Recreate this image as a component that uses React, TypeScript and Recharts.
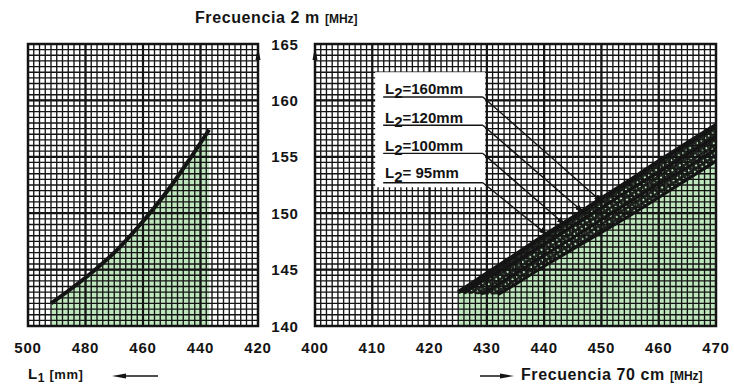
import { ComposedChart, Area, Line, XAxis, YAxis, ReferenceArea, ReferenceLine } from 'recharts'

// left panel: L1 length (mm) vs 2 m frequency
const lengthL1 = [492, 485, 478, 470, 463, 456, 450, 444, 437]
const freq2m = [142.0, 143.3, 144.7, 146.5, 148.4, 150.5, 152.5, 154.7, 157.4]

// right panel: 70 cm frequency vs 2 m frequency for several L2
const freq70 = [425, 426, 429, 432, 435, 440, 445, 450, 455, 460, 465, 470]
const l2_160 = [143.0, 143.3, 144.3, 145.3, 146.3, 148.0, 149.6, 151.3, 152.9, 154.6, 156.2, 157.8]
const l2_120 = [null, 142.9, 143.9, 144.8, 145.7, 147.3, 148.9, 150.5, 152.1, 153.6, 155.2, 156.8]
const l2_100 = [null, null, 142.8, 143.7, 144.7, 146.3, 147.8, 149.4, 151.0, 152.6, 154.1, 155.7]
const l2_95 = [null, null, null, 142.8, 143.7, 145.3, 146.8, 148.3, 149.8, 151.4, 153.0, 154.6]

const yTicks = [140, 145, 150, 155, 160, 165]
const leftTicks = [500, 480, 460, 440, 420]
const rightTicks = [400, 410, 420, 430, 440, 450, 460, 470]
const labels = ['160mm', '120mm', '100mm', ' 95mm']

// leader lines: label underline height, end point on the band
const leaderY = [160.3, 157.8, 155.3, 152.7]
const leaderEnd = [[450.1, 151.0], [446.8, 150.1], [443.6, 149.0], [440.5, 148.1]]

const leftData = lengthL1.map((l, i) => ({ l, f: freq2m[i] }))
const rightData = freq70.map((f, i) => {
  const lows = [l2_95[i], l2_100[i], l2_120[i], l2_160[i]].filter((v) => v != null) as number[]
  return { f, a: l2_160[i], b: l2_120[i], c: l2_100[i], d: l2_95[i], band: [lows[0], l2_160[i]] }
})

const range = (from: number, to: number, step: number) => {
  const out: number[] = []
  for (let v = from; v <= to + 1e-9; v += step) out.push(Math.round(v * 10) / 10)
  return out
}

const FONT = '"Liberation Sans", Arial, sans-serif'
const INK = '#141414'
const GREEN = '#5cc45a'

const tickText = { fontFamily: FONT, fontWeight: 700, fontSize: 15, fill: INK, letterSpacing: 0.8 }

const XTick = ({ x, payload }: any) => (
  <text x={x} y={347} textAnchor="middle" dominantBaseline="central" style={tickText}>
    {payload.value}
  </text>
)

const YTick = ({ y, payload }: any) => (
  <text x={285} y={y} textAnchor="middle" dominantBaseline="central" style={tickText}>
    {payload.value}
  </text>
)

// graph-paper grid: fine lines plus heavier major lines
const gridLines = (fineX: number[], majorX: number[]) => [
  ...fineX.map((x) => <ReferenceLine key={'fx' + x} x={x} stroke={INK} strokeWidth={1.35} />),
  ...range(140, 165, 0.5).map((y) => <ReferenceLine key={'fy' + y} y={y} stroke={INK} strokeWidth={1.35} />),
  ...majorX.map((x) => <ReferenceLine key={'mx' + x} x={x} stroke={INK} strokeWidth={2.2} />),
  ...[145, 150, 155, 160].map((y) => <ReferenceLine key={'my' + y} y={y} stroke={INK} strokeWidth={2.2} />),
]

function LeftPanel() {
  return (
    <ComposedChart width={300} height={387} data={leftData} margin={{ top: 44, left: 28, right: 0, bottom: 31 }}>
      <XAxis dataKey="l" type="number" domain={[420, 500]} reversed ticks={leftTicks} height={30} axisLine={false} tickLine={false} tick={<XTick />} allowDataOverflow />
      <YAxis orientation="right" type="number" domain={[140, 165]} ticks={yTicks} width={42} axisLine={false} tickLine={false} tick={<YTick />} allowDataOverflow />
      <Area dataKey="f" type="monotone" stroke="none" fill={GREEN} fillOpacity={0.4} isAnimationActive={false} dot={false} />
      {gridLines(range(420, 500, 2), [440, 460, 480])}
      <Line dataKey="f" type="monotone" stroke={INK} strokeWidth={4} dot={false} isAnimationActive={false} />
      <ReferenceArea x1={420} x2={500} y1={140} y2={165} fill="none" stroke={INK} strokeWidth={2.5} />
    </ComposedChart>
  )
}

function RightPanel() {
  return (
    <ComposedChart width={434} height={387} data={rightData} margin={{ top: 44, left: 15, right: 18, bottom: 31 }}>
      <defs>
        <pattern id="hatch" width="4.5" height="4.5" patternUnits="userSpaceOnUse" patternTransform="rotate(-33)">
          <rect width="4.5" height="2.6" fill={INK} />
          <rect width="2.6" height="4.5" fill={INK} />
        </pattern>
        <marker id="arr" markerWidth="9" markerHeight="6" refX="8" refY="3" orient="auto" markerUnits="userSpaceOnUse">
          <path d="M0,0 L9,3 L0,6 Z" fill={INK} />
        </marker>
      </defs>
      <XAxis dataKey="f" type="number" domain={[400, 470]} ticks={rightTicks} height={30} axisLine={false} tickLine={false} tick={<XTick />} allowDataOverflow />
      <YAxis hide type="number" domain={[140, 165]} allowDataOverflow />
      <Area dataKey="a" type="linear" stroke="none" fill={GREEN} fillOpacity={0.4} isAnimationActive={false} connectNulls />
      {gridLines(range(400, 470, 1), [410, 420, 430, 440, 450, 460])}
      <Area dataKey="band" type="linear" stroke="none" fill="url(#hatch)" fillOpacity={0.92} isAnimationActive={false} />
      <Line dataKey="d" type="linear" stroke={INK} strokeWidth={3} dot={false} isAnimationActive={false} />
      <Line dataKey="c" type="linear" stroke={INK} strokeWidth={2.5} dot={false} isAnimationActive={false} />
      <Line dataKey="b" type="linear" stroke={INK} strokeWidth={3} dot={false} isAnimationActive={false} />
      <Line dataKey="a" type="linear" stroke={INK} strokeWidth={4.5} dot={false} isAnimationActive={false} />
      {/* white label box, drawn in the reference-line layer so it sits above the grid */}
      <ReferenceLine
        segment={[{ x: 410.5, y: 162.5 }, { x: 429.7, y: 152.3 }]}
        shape={(p: any) => (
          <rect x={Math.min(p.x1, p.x2)} y={Math.min(p.y1, p.y2)} width={Math.abs(p.x2 - p.x1)} height={Math.abs(p.y2 - p.y1)} fill="#fff" />
        )}
      />
      {leaderY.map((y, i) => (
        <ReferenceLine key={'u' + i} segment={[{ x: 411.9, y }, { x: 429.3, y }]} stroke={INK} strokeWidth={1.4} />
      ))}
      {leaderY.map((y, i) => (
        <ReferenceLine
          key={'d' + i}
          segment={[{ x: 429.3, y }, { x: leaderEnd[i][0], y: leaderEnd[i][1] }]}
          shape={(p: any) => <line x1={p.x1} y1={p.y1} x2={p.x2} y2={p.y2} stroke={INK} strokeWidth={1.4} markerEnd="url(#arr)" />}
        />
      ))}
      <ReferenceArea x1={400} x2={470} y1={140} y2={165} fill="none" stroke={INK} strokeWidth={2.5} />
    </ComposedChart>
  )
}

const textBase = { position: 'absolute' as const, fontFamily: FONT, fontWeight: 700, color: INK, whiteSpace: 'pre' as const, lineHeight: 1 }

export default function App() {
  return (
    <div style={{ position: 'absolute', left: 0, top: 0, width: 734, height: 387, background: '#fff', overflow: 'hidden' }}>
      <div style={{ position: 'absolute', left: 0, top: 0 }}>
        <LeftPanel />
      </div>
      <div style={{ position: 'absolute', left: 300, top: 0 }}>
        <RightPanel />
      </div>

      <div style={{ ...textBase, left: 195, top: 10, fontSize: 16, letterSpacing: 0.6 }}>
        Frecuencia 2 m <span style={{ fontSize: 12, letterSpacing: 0 }}>[MHz]</span>
      </div>

      {labels.map((t, i) => (
        <div key={t} style={{ ...textBase, left: 385, top: [81, 110, 138, 165][i], fontSize: 15 }}>
          L<span style={{ fontSize: 15, position: 'relative', top: 4 }}>2</span>={t}
        </div>
      ))}

      <div style={{ ...textBase, left: 28, top: 366, fontSize: 15, letterSpacing: 0.5 }}>
        L<span style={{ fontSize: 12, position: 'relative', top: 3 }}>1</span> <span style={{ fontSize: 13 }}>[mm]</span>
      </div>
      <div style={{ ...textBase, left: 521, top: 367, fontSize: 16, letterSpacing: 0.6 }}>
        Frecuencia 70 cm <span style={{ fontSize: 12, letterSpacing: 0 }}>[MHz]</span>
      </div>

      <svg width={734} height={387} style={{ position: 'absolute', left: 0, top: 0, pointerEvents: 'none' }}>
        <line x1={118} y1={376} x2={158} y2={376} stroke={INK} strokeWidth={1.5} />
        <path d="M112,376 L126,373.5 L126,378.5 Z" fill={INK} />
        <line x1={480} y1={376} x2={506} y2={376} stroke={INK} strokeWidth={1.5} />
        <path d="M514,376 L500,373.5 L500,378.5 Z" fill={INK} />
        <path d="M258,47 L255.5,60 L260.5,60 Z" fill={INK} />
        <path d="M315,47 L312.5,60 L317.5,60 Z" fill={INK} />
      </svg>
    </div>
  )
}
